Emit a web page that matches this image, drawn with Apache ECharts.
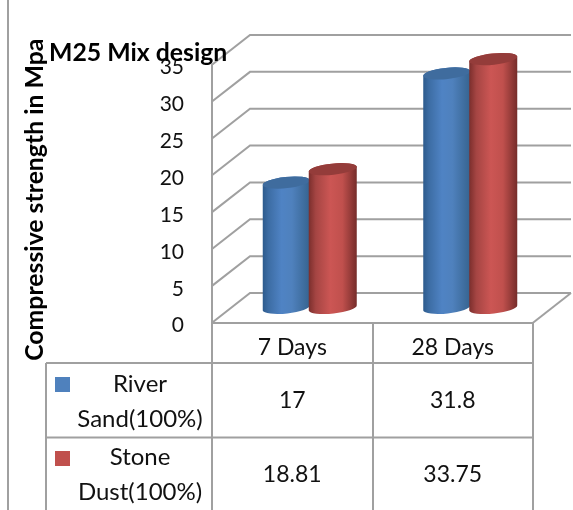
<!DOCTYPE html>
<html>
<head>
<meta charset="utf-8">
<script src="https://cdn.jsdelivr.net/npm/echarts@6/dist/echarts.min.js"></script>
<style>
  html, body { margin: 0; padding: 0; background: #fff; }
  #chart { width: 573px; height: 510px; }
</style>
</head>
<body>
<div id="chart"></div>
<script>
const categories = ['7 Days', '28 Days']
const riverSand = [17, 31.8]
const stoneDust = [18.81, 33.75]
const riverSandLabel = 'River\nSand(100%)'
const stoneDustLabel = 'Stone\nDust(100%)'
const riverSandText = ['17', '31.8']
const stoneDustText = ['18.81', '33.75']
const yTicks = [0, 5, 10, 15, 20, 25, 30, 35]

const lineColor = '#a0a0a0'
const font = 'Lato, "Open Sans", sans-serif'

// 三维偏移：墙面相对正面的位移
const depthX = 38
const depthY = -29.7
const plotLeft = 212
const plotRight = 533
const plotTop = 64.7
const plotBottom = 322.7
const row1 = 363
const row2 = 437.5

const chart = echarts.init(document.getElementById('chart'))

const gradient = (stops) => new echarts.graphic.LinearGradient(0, 0, 1, 0, stops)

const blueBody = [
  { offset: 0, color: '#2c5a8c' },
  { offset: 0.12, color: '#3c6ca3' },
  { offset: 0.4, color: '#4f83c4' },
  { offset: 0.62, color: '#4f81bd' },
  { offset: 1, color: '#36638f' }
]
const redBody = [
  { offset: 0, color: '#7a2e2c' },
  { offset: 0.15, color: '#a54543' },
  { offset: 0.45, color: '#cc5654' },
  { offset: 0.7, color: '#c0504d' },
  { offset: 1, color: '#752c2a' }
]

// 圆柱：椭圆略微倾斜，左低右高
const cylinder = (bodyStops, topColor, shift, rx) => (params, api) => {
  const base = api.coord([api.value(0), 0])
  const head = api.coord([api.value(0), api.value(1)])
  const cx = base[0] + depthX / 2 + shift
  const y0 = base[1] + depthY / 2
  const y1 = head[1] + depthY / 2
  const ry = 5.6
  const tilt = 2.6
  const arc = `A ${rx} ${ry} -6 1 0`
  const body = `M ${cx - rx} ${y1 + tilt} L ${cx - rx} ${y0 + tilt} ${arc} ${cx + rx} ${y0 - tilt} L ${cx + rx} ${y1 - tilt} ${arc} ${cx - rx} ${y1 + tilt} Z`
  const cap = `M ${cx - rx} ${y1 + tilt} A ${rx} ${ry} -6 1 1 ${cx + rx} ${y1 - tilt} A ${rx} ${ry} -6 1 1 ${cx - rx} ${y1 + tilt} Z`
  return {
    type: 'group',
    children: [
      { type: 'path', shape: { pathData: body }, style: { fill: gradient(bodyStops) } },
      { type: 'path', shape: { pathData: cap }, style: { fill: topColor } }
    ]
  }
}

// 网格线：左墙斜线 + 后墙水平线
const renderWall = (params, api) => {
  const p = api.coord([0, api.value(0)])
  const x0 = params.coordSys.x
  const x1 = x0 + params.coordSys.width
  const style = { stroke: lineColor, lineWidth: 2, fill: 'none' }
  const children = [
    { type: 'polyline', shape: { points: [[x0, p[1]], [x0 + depthX, p[1] + depthY], [x1 + depthX, p[1] + depthY]] }, style }
  ]
  if (api.value(0) === 0) {
    children.push({ type: 'line', shape: { x1: x1, y1: p[1], x2: x1 + depthX, y2: p[1] + depthY }, style })
  }
  return { type: 'group', children }
}

const renderCell = (params, api) => {
  const p = api.coord([api.value(0), 0])
  return {
    type: 'text',
    x: p[0],
    y: api.value(1),
    style: {
      text: params.seriesName === 'river' ? riverSandText[params.dataIndex] : stoneDustText[params.dataIndex],
      font: `23px ${font}`,
      fill: '#111',
      textAlign: 'center',
      textVerticalAlign: 'middle'
    }
  }
}

const tableLine = (x1, y1, x2, y2) => ({
  type: 'line',
  shape: { x1, y1, x2, y2 },
  style: { stroke: lineColor, lineWidth: 2 }
})

const option = {
  animation: false,
  backgroundColor: '#fff',
  title: {
    text: 'M25 Mix design',
    left: 44,
    top: 36,
    textStyle: { fontFamily: font, fontSize: 24.8, fontWeight: 'bold', color: '#000' }
  },
  grid: { left: plotLeft, top: plotTop, width: plotRight - plotLeft, height: plotBottom - plotTop },
  xAxis: {
    type: 'category',
    data: categories,
    axisLine: { lineStyle: { color: lineColor, width: 2 } },
    axisTick: { show: false },
    axisLabel: { fontFamily: font, fontSize: 23, color: '#111', margin: 13 }
  },
  yAxis: {
    type: 'value',
    min: 0,
    max: 35,
    interval: 5,
    name: 'Compressive strength in Mpa',
    nameLocation: 'middle',
    nameGap: 164,
    nameTextStyle: { fontFamily: font, fontSize: 24.8, fontWeight: 'bold', color: '#000', padding: [0, 12, 0, 0] },
    axisLine: { show: true, lineStyle: { color: lineColor, width: 2 } },
    axisTick: { show: false },
    splitLine: { show: false },
    axisLabel: { fontFamily: font, fontSize: 21, color: '#111', margin: 28, verticalAlign: 'top', lineHeight: 6 }
  },
  series: [
    { type: 'custom', name: 'wall', renderItem: renderWall, data: yTicks.map(v => [v]), encode: { y: 0 }, z: 1 },
    {
      type: 'custom',
      name: 'River Sand(100%)',
      renderItem: cylinder(blueBody, '#3f6c9e', -25, 23.5),
      data: riverSand.map((v, i) => [i, v]),
      encode: { x: 0, y: 1 },
      z: 2
    },
    {
      type: 'custom',
      name: 'Stone Dust(100%)',
      renderItem: cylinder(redBody, '#943c3a', 21.5, 24),
      data: stoneDust.map((v, i) => [i, v]),
      encode: { x: 0, y: 1 },
      z: 3
    },
    { type: 'custom', name: 'river', renderItem: renderCell, data: categories.map((c, i) => [i, 401]), encode: { x: 0 }, z: 4 },
    { type: 'custom', name: 'stone', renderItem: renderCell, data: categories.map((c, i) => [i, 475]), encode: { x: 0 }, z: 4 }
  ],
  graphic: [
    tableLine(8, 0, 8, 510),
    tableLine(plotLeft, plotBottom, plotLeft, 510),
    tableLine(373, plotBottom, 373, 510),
    tableLine(plotRight, plotBottom, plotRight, 510),
    tableLine(46, row1, 46, 510),
    tableLine(46, row1, plotRight, row1),
    tableLine(46, row2, plotRight, row2),
    { type: 'rect', shape: { x: 55, y: 377, width: 15, height: 15 }, style: { fill: '#4f81bd' } },
    { type: 'rect', shape: { x: 55, y: 451, width: 15, height: 15 }, style: { fill: '#c0504d' } },
    {
      type: 'text', x: 140, y: 402,
      style: { text: riverSandLabel, font: `24px ${font}`, fill: '#111', textAlign: 'center', textVerticalAlign: 'middle', lineHeight: 35 }
    },
    {
      type: 'text', x: 140, y: 475,
      style: { text: stoneDustLabel, font: `24px ${font}`, fill: '#111', textAlign: 'center', textVerticalAlign: 'middle', lineHeight: 35 }
    }
  ]
}

chart.setOption(option)
</script>
</body>
</html>
